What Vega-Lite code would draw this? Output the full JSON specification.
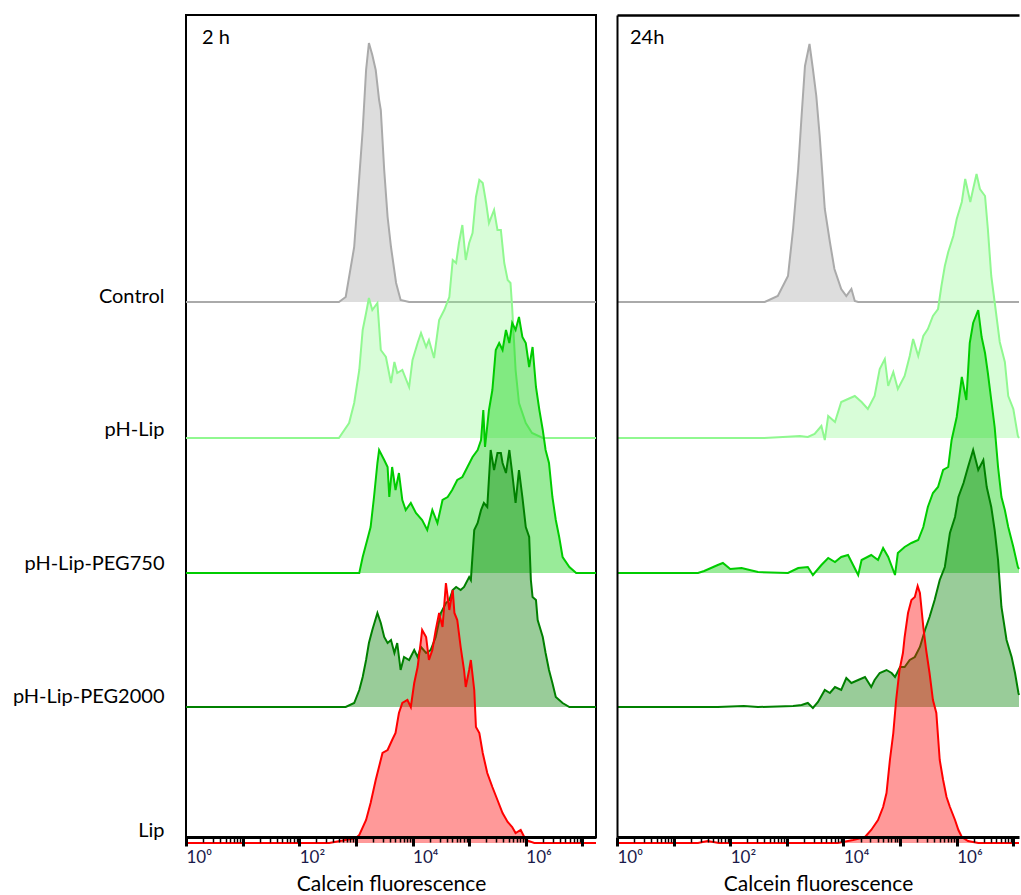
{
"$schema": "https://vega.github.io/schema/vega-lite/v6.json",
"padding": {"left": 11, "top": 14, "right": 0, "bottom": 0},
"background": "white",
"config": {"font": "Lato", "view": {"stroke": null}, "axis": {"grid": false}},
"spacing": 12,
"datasets": {
"h2": [
{"sample":"Control","logF":0,"count":0},{"sample":"Control","logF":2.70,"count":0},{"sample":"Control","logF":2.82,"count":5},{"sample":"Control","logF":2.97,"count":55},{"sample":"Control","logF":3.06,"count":125},{"sample":"Control","logF":3.12,"count":172},{"sample":"Control","logF":3.18,"count":232},{"sample":"Control","logF":3.23,"count":259},{"sample":"Control","logF":3.29,"count":247},{"sample":"Control","logF":3.35,"count":232},{"sample":"Control","logF":3.41,"count":202},{"sample":"Control","logF":3.44,"count":192},{"sample":"Control","logF":3.50,"count":132},{"sample":"Control","logF":3.56,"count":85},{"sample":"Control","logF":3.62,"count":55},{"sample":"Control","logF":3.71,"count":19},{"sample":"Control","logF":3.79,"count":2},{"sample":"Control","logF":3.94,"count":0},{"sample":"Control","logF":7.24,"count":0},
{"sample":"pH-Lip","logF":0,"count":0},{"sample":"pH-Lip","logF":2.70,"count":0},{"sample":"pH-Lip","logF":2.88,"count":15},{"sample":"pH-Lip","logF":2.97,"count":35},{"sample":"pH-Lip","logF":3.06,"count":68},{"sample":"pH-Lip","logF":3.12,"count":108},{"sample":"pH-Lip","logF":3.18,"count":125},{"sample":"pH-Lip","logF":3.23,"count":140},{"sample":"pH-Lip","logF":3.29,"count":128},{"sample":"pH-Lip","logF":3.38,"count":135},{"sample":"pH-Lip","logF":3.44,"count":88},{"sample":"pH-Lip","logF":3.53,"count":81},{"sample":"pH-Lip","logF":3.62,"count":55},{"sample":"pH-Lip","logF":3.68,"count":76},{"sample":"pH-Lip","logF":3.73,"count":65},{"sample":"pH-Lip","logF":3.82,"count":68},{"sample":"pH-Lip","logF":3.94,"count":51},{"sample":"pH-Lip","logF":4.00,"count":78},{"sample":"pH-Lip","logF":4.09,"count":95},{"sample":"pH-Lip","logF":4.15,"count":105},{"sample":"pH-Lip","logF":4.24,"count":91},{"sample":"pH-Lip","logF":4.29,"count":98},{"sample":"pH-Lip","logF":4.38,"count":80},{"sample":"pH-Lip","logF":4.47,"count":118},{"sample":"pH-Lip","logF":4.56,"count":128},{"sample":"pH-Lip","logF":4.65,"count":141},{"sample":"pH-Lip","logF":4.71,"count":178},{"sample":"pH-Lip","logF":4.77,"count":175},{"sample":"pH-Lip","logF":4.82,"count":195},{"sample":"pH-Lip","logF":4.88,"count":213},{"sample":"pH-Lip","logF":4.94,"count":178},{"sample":"pH-Lip","logF":5.00,"count":195},{"sample":"pH-Lip","logF":5.06,"count":205},{"sample":"pH-Lip","logF":5.12,"count":241},{"sample":"pH-Lip","logF":5.18,"count":258},{"sample":"pH-Lip","logF":5.24,"count":255},{"sample":"pH-Lip","logF":5.30,"count":235},{"sample":"pH-Lip","logF":5.35,"count":215},{"sample":"pH-Lip","logF":5.44,"count":228},{"sample":"pH-Lip","logF":5.50,"count":208},{"sample":"pH-Lip","logF":5.56,"count":208},{"sample":"pH-Lip","logF":5.62,"count":175},{"sample":"pH-Lip","logF":5.68,"count":158},{"sample":"pH-Lip","logF":5.73,"count":155},{"sample":"pH-Lip","logF":5.76,"count":130},{"sample":"pH-Lip","logF":5.82,"count":68},{"sample":"pH-Lip","logF":5.88,"count":35},{"sample":"pH-Lip","logF":6.00,"count":15},{"sample":"pH-Lip","logF":6.11,"count":5},{"sample":"pH-Lip","logF":6.30,"count":0},{"sample":"pH-Lip","logF":7.24,"count":0},
{"sample":"pH-Lip-PEG750","logF":0,"count":0},{"sample":"pH-Lip-PEG750","logF":3.06,"count":0},{"sample":"pH-Lip-PEG750","logF":3.12,"count":16},{"sample":"pH-Lip-PEG750","logF":3.20,"count":33},{"sample":"pH-Lip-PEG750","logF":3.26,"count":46},{"sample":"pH-Lip-PEG750","logF":3.32,"count":76},{"sample":"pH-Lip-PEG750","logF":3.38,"count":110},{"sample":"pH-Lip-PEG750","logF":3.41,"count":123},{"sample":"pH-Lip-PEG750","logF":3.50,"count":113},{"sample":"pH-Lip-PEG750","logF":3.56,"count":106},{"sample":"pH-Lip-PEG750","logF":3.59,"count":76},{"sample":"pH-Lip-PEG750","logF":3.64,"count":106},{"sample":"pH-Lip-PEG750","logF":3.70,"count":83},{"sample":"pH-Lip-PEG750","logF":3.76,"count":100},{"sample":"pH-Lip-PEG750","logF":3.82,"count":73},{"sample":"pH-Lip-PEG750","logF":3.88,"count":63},{"sample":"pH-Lip-PEG750","logF":3.97,"count":70},{"sample":"pH-Lip-PEG750","logF":4.06,"count":60},{"sample":"pH-Lip-PEG750","logF":4.17,"count":53},{"sample":"pH-Lip-PEG750","logF":4.26,"count":43},{"sample":"pH-Lip-PEG750","logF":4.35,"count":63},{"sample":"pH-Lip-PEG750","logF":4.44,"count":50},{"sample":"pH-Lip-PEG750","logF":4.53,"count":73},{"sample":"pH-Lip-PEG750","logF":4.62,"count":76},{"sample":"pH-Lip-PEG750","logF":4.70,"count":83},{"sample":"pH-Lip-PEG750","logF":4.79,"count":93},{"sample":"pH-Lip-PEG750","logF":4.88,"count":96},{"sample":"pH-Lip-PEG750","logF":4.97,"count":106},{"sample":"pH-Lip-PEG750","logF":5.06,"count":116},{"sample":"pH-Lip-PEG750","logF":5.15,"count":123},{"sample":"pH-Lip-PEG750","logF":5.21,"count":133},{"sample":"pH-Lip-PEG750","logF":5.25,"count":163},{"sample":"pH-Lip-PEG750","logF":5.28,"count":126},{"sample":"pH-Lip-PEG750","logF":5.35,"count":163},{"sample":"pH-Lip-PEG750","logF":5.41,"count":183},{"sample":"pH-Lip-PEG750","logF":5.47,"count":223},{"sample":"pH-Lip-PEG750","logF":5.53,"count":230},{"sample":"pH-Lip-PEG750","logF":5.59,"count":223},{"sample":"pH-Lip-PEG750","logF":5.65,"count":243},{"sample":"pH-Lip-PEG750","logF":5.71,"count":230},{"sample":"pH-Lip-PEG750","logF":5.76,"count":250},{"sample":"pH-Lip-PEG750","logF":5.82,"count":243},{"sample":"pH-Lip-PEG750","logF":5.88,"count":256},{"sample":"pH-Lip-PEG750","logF":5.94,"count":236},{"sample":"pH-Lip-PEG750","logF":6.00,"count":230},{"sample":"pH-Lip-PEG750","logF":6.06,"count":206},{"sample":"pH-Lip-PEG750","logF":6.12,"count":226},{"sample":"pH-Lip-PEG750","logF":6.18,"count":186},{"sample":"pH-Lip-PEG750","logF":6.24,"count":163},{"sample":"pH-Lip-PEG750","logF":6.30,"count":143},{"sample":"pH-Lip-PEG750","logF":6.35,"count":123},{"sample":"pH-Lip-PEG750","logF":6.41,"count":110},{"sample":"pH-Lip-PEG750","logF":6.47,"count":76},{"sample":"pH-Lip-PEG750","logF":6.53,"count":53},{"sample":"pH-Lip-PEG750","logF":6.59,"count":36},{"sample":"pH-Lip-PEG750","logF":6.65,"count":16},{"sample":"pH-Lip-PEG750","logF":6.77,"count":6},{"sample":"pH-Lip-PEG750","logF":6.89,"count":0},{"sample":"pH-Lip-PEG750","logF":7.24,"count":0},
{"sample":"pH-Lip-PEG2000","logF":0,"count":0},{"sample":"pH-Lip-PEG2000","logF":2.82,"count":0},{"sample":"pH-Lip-PEG2000","logF":2.97,"count":4},{"sample":"pH-Lip-PEG2000","logF":3.06,"count":17},{"sample":"pH-Lip-PEG2000","logF":3.12,"count":30},{"sample":"pH-Lip-PEG2000","logF":3.18,"count":47},{"sample":"pH-Lip-PEG2000","logF":3.23,"count":64},{"sample":"pH-Lip-PEG2000","logF":3.29,"count":77},{"sample":"pH-Lip-PEG2000","logF":3.38,"count":94},{"sample":"pH-Lip-PEG2000","logF":3.44,"count":84},{"sample":"pH-Lip-PEG2000","logF":3.50,"count":70},{"sample":"pH-Lip-PEG2000","logF":3.56,"count":64},{"sample":"pH-Lip-PEG2000","logF":3.62,"count":67},{"sample":"pH-Lip-PEG2000","logF":3.68,"count":54},{"sample":"pH-Lip-PEG2000","logF":3.73,"count":64},{"sample":"pH-Lip-PEG2000","logF":3.79,"count":37},{"sample":"pH-Lip-PEG2000","logF":3.85,"count":50},{"sample":"pH-Lip-PEG2000","logF":3.94,"count":47},{"sample":"pH-Lip-PEG2000","logF":4.03,"count":57},{"sample":"pH-Lip-PEG2000","logF":4.09,"count":50},{"sample":"pH-Lip-PEG2000","logF":4.15,"count":60},{"sample":"pH-Lip-PEG2000","logF":4.24,"count":54},{"sample":"pH-Lip-PEG2000","logF":4.32,"count":57},{"sample":"pH-Lip-PEG2000","logF":4.41,"count":70},{"sample":"pH-Lip-PEG2000","logF":4.50,"count":94},{"sample":"pH-Lip-PEG2000","logF":4.59,"count":104},{"sample":"pH-Lip-PEG2000","logF":4.65,"count":107},{"sample":"pH-Lip-PEG2000","logF":4.71,"count":117},{"sample":"pH-Lip-PEG2000","logF":4.77,"count":120},{"sample":"pH-Lip-PEG2000","logF":4.85,"count":117},{"sample":"pH-Lip-PEG2000","logF":4.91,"count":120},{"sample":"pH-Lip-PEG2000","logF":5.00,"count":130},{"sample":"pH-Lip-PEG2000","logF":5.03,"count":127},{"sample":"pH-Lip-PEG2000","logF":5.09,"count":177},{"sample":"pH-Lip-PEG2000","logF":5.15,"count":184},{"sample":"pH-Lip-PEG2000","logF":5.21,"count":197},{"sample":"pH-Lip-PEG2000","logF":5.26,"count":204},{"sample":"pH-Lip-PEG2000","logF":5.32,"count":200},{"sample":"pH-Lip-PEG2000","logF":5.38,"count":257},{"sample":"pH-Lip-PEG2000","logF":5.44,"count":237},{"sample":"pH-Lip-PEG2000","logF":5.50,"count":254},{"sample":"pH-Lip-PEG2000","logF":5.56,"count":254},{"sample":"pH-Lip-PEG2000","logF":5.59,"count":244},{"sample":"pH-Lip-PEG2000","logF":5.65,"count":234},{"sample":"pH-Lip-PEG2000","logF":5.71,"count":257},{"sample":"pH-Lip-PEG2000","logF":5.76,"count":234},{"sample":"pH-Lip-PEG2000","logF":5.82,"count":204},{"sample":"pH-Lip-PEG2000","logF":5.88,"count":237},{"sample":"pH-Lip-PEG2000","logF":5.94,"count":210},{"sample":"pH-Lip-PEG2000","logF":6.00,"count":180},{"sample":"pH-Lip-PEG2000","logF":6.06,"count":170},{"sample":"pH-Lip-PEG2000","logF":6.09,"count":127},{"sample":"pH-Lip-PEG2000","logF":6.12,"count":110},{"sample":"pH-Lip-PEG2000","logF":6.18,"count":107},{"sample":"pH-Lip-PEG2000","logF":6.21,"count":87},{"sample":"pH-Lip-PEG2000","logF":6.30,"count":70},{"sample":"pH-Lip-PEG2000","logF":6.35,"count":54},{"sample":"pH-Lip-PEG2000","logF":6.41,"count":37},{"sample":"pH-Lip-PEG2000","logF":6.47,"count":24},{"sample":"pH-Lip-PEG2000","logF":6.53,"count":10},{"sample":"pH-Lip-PEG2000","logF":6.65,"count":4},{"sample":"pH-Lip-PEG2000","logF":6.77,"count":0},{"sample":"pH-Lip-PEG2000","logF":7.24,"count":0},
{"sample":"Lip","logF":0,"count":0},{"sample":"Lip","logF":2.53,"count":0},{"sample":"Lip","logF":3.00,"count":5},{"sample":"Lip","logF":3.06,"count":8},{"sample":"Lip","logF":3.18,"count":23},{"sample":"Lip","logF":3.26,"count":40},{"sample":"Lip","logF":3.35,"count":63},{"sample":"Lip","logF":3.47,"count":90},{"sample":"Lip","logF":3.56,"count":93},{"sample":"Lip","logF":3.64,"count":103},{"sample":"Lip","logF":3.70,"count":110},{"sample":"Lip","logF":3.76,"count":130},{"sample":"Lip","logF":3.82,"count":140},{"sample":"Lip","logF":3.91,"count":143},{"sample":"Lip","logF":3.97,"count":136},{"sample":"Lip","logF":4.03,"count":160},{"sample":"Lip","logF":4.09,"count":176},{"sample":"Lip","logF":4.15,"count":203},{"sample":"Lip","logF":4.17,"count":213},{"sample":"Lip","logF":4.24,"count":206},{"sample":"Lip","logF":4.29,"count":183},{"sample":"Lip","logF":4.35,"count":193},{"sample":"Lip","logF":4.41,"count":213},{"sample":"Lip","logF":4.47,"count":230},{"sample":"Lip","logF":4.53,"count":216},{"sample":"Lip","logF":4.59,"count":260},{"sample":"Lip","logF":4.65,"count":233},{"sample":"Lip","logF":4.71,"count":253},{"sample":"Lip","logF":4.74,"count":230},{"sample":"Lip","logF":4.79,"count":223},{"sample":"Lip","logF":4.85,"count":196},{"sample":"Lip","logF":4.91,"count":173},{"sample":"Lip","logF":4.94,"count":156},{"sample":"Lip","logF":5.00,"count":173},{"sample":"Lip","logF":5.03,"count":183},{"sample":"Lip","logF":5.09,"count":153},{"sample":"Lip","logF":5.12,"count":116},{"sample":"Lip","logF":5.18,"count":110},{"sample":"Lip","logF":5.24,"count":90},{"sample":"Lip","logF":5.32,"count":70},{"sample":"Lip","logF":5.41,"count":56},{"sample":"Lip","logF":5.50,"count":43},{"sample":"Lip","logF":5.59,"count":30},{"sample":"Lip","logF":5.68,"count":21},{"sample":"Lip","logF":5.76,"count":16},{"sample":"Lip","logF":5.82,"count":10},{"sample":"Lip","logF":5.91,"count":13},{"sample":"Lip","logF":6.00,"count":3},{"sample":"Lip","logF":6.15,"count":0},{"sample":"Lip","logF":7.24,"count":0}
],
"h24": [
{"sample":"Control","logF":0,"count":0},{"sample":"Control","logF":2.61,"count":0},{"sample":"Control","logF":2.84,"count":6},{"sample":"Control","logF":3.02,"count":26},{"sample":"Control","logF":3.11,"count":73},{"sample":"Control","logF":3.20,"count":133},{"sample":"Control","logF":3.26,"count":186},{"sample":"Control","logF":3.32,"count":236},{"sample":"Control","logF":3.40,"count":258},{"sample":"Control","logF":3.46,"count":233},{"sample":"Control","logF":3.52,"count":206},{"sample":"Control","logF":3.58,"count":166},{"sample":"Control","logF":3.67,"count":93},{"sample":"Control","logF":3.76,"count":60},{"sample":"Control","logF":3.84,"count":33},{"sample":"Control","logF":3.96,"count":13},{"sample":"Control","logF":4.05,"count":6},{"sample":"Control","logF":4.14,"count":13},{"sample":"Control","logF":4.20,"count":1},{"sample":"Control","logF":4.26,"count":0},{"sample":"Control","logF":7.1,"count":0},
{"sample":"pH-Lip","logF":0,"count":0},{"sample":"pH-Lip","logF":2.60,"count":0},{"sample":"pH-Lip","logF":2.93,"count":1},{"sample":"pH-Lip","logF":3.23,"count":2},{"sample":"pH-Lip","logF":3.37,"count":1},{"sample":"pH-Lip","logF":3.49,"count":4},{"sample":"pH-Lip","logF":3.61,"count":12},{"sample":"pH-Lip","logF":3.67,"count":-2},{"sample":"pH-Lip","logF":3.73,"count":22},{"sample":"pH-Lip","logF":3.85,"count":16},{"sample":"pH-Lip","logF":3.96,"count":36},{"sample":"pH-Lip","logF":4.08,"count":39},{"sample":"pH-Lip","logF":4.20,"count":42},{"sample":"pH-Lip","logF":4.32,"count":36},{"sample":"pH-Lip","logF":4.43,"count":29},{"sample":"pH-Lip","logF":4.55,"count":42},{"sample":"pH-Lip","logF":4.64,"count":69},{"sample":"pH-Lip","logF":4.73,"count":79},{"sample":"pH-Lip","logF":4.79,"count":52},{"sample":"pH-Lip","logF":4.88,"count":66},{"sample":"pH-Lip","logF":4.96,"count":49},{"sample":"pH-Lip","logF":5.08,"count":62},{"sample":"pH-Lip","logF":5.17,"count":82},{"sample":"pH-Lip","logF":5.23,"count":99},{"sample":"pH-Lip","logF":5.32,"count":82},{"sample":"pH-Lip","logF":5.41,"count":102},{"sample":"pH-Lip","logF":5.49,"count":109},{"sample":"pH-Lip","logF":5.58,"count":122},{"sample":"pH-Lip","logF":5.67,"count":129},{"sample":"pH-Lip","logF":5.73,"count":152},{"sample":"pH-Lip","logF":5.79,"count":172},{"sample":"pH-Lip","logF":5.85,"count":186},{"sample":"pH-Lip","logF":5.94,"count":202},{"sample":"pH-Lip","logF":6.00,"count":219},{"sample":"pH-Lip","logF":6.09,"count":236},{"sample":"pH-Lip","logF":6.15,"count":259},{"sample":"pH-Lip","logF":6.24,"count":236},{"sample":"pH-Lip","logF":6.29,"count":249},{"sample":"pH-Lip","logF":6.35,"count":264},{"sample":"pH-Lip","logF":6.41,"count":249},{"sample":"pH-Lip","logF":6.50,"count":242},{"sample":"pH-Lip","logF":6.55,"count":209},{"sample":"pH-Lip","logF":6.61,"count":162},{"sample":"pH-Lip","logF":6.67,"count":136},{"sample":"pH-Lip","logF":6.76,"count":96},{"sample":"pH-Lip","logF":6.85,"count":76},{"sample":"pH-Lip","logF":6.91,"count":42},{"sample":"pH-Lip","logF":7.00,"count":29},{"sample":"pH-Lip","logF":7.08,"count":2},{"sample":"pH-Lip","logF":7.1,"count":0},
{"sample":"pH-Lip-PEG750","logF":0,"count":0},{"sample":"pH-Lip-PEG750","logF":1.43,"count":0},{"sample":"pH-Lip-PEG750","logF":1.54,"count":2},{"sample":"pH-Lip-PEG750","logF":1.78,"count":8},{"sample":"pH-Lip-PEG750","logF":1.87,"count":10},{"sample":"pH-Lip-PEG750","logF":2.00,"count":4},{"sample":"pH-Lip-PEG750","logF":2.20,"count":5},{"sample":"pH-Lip-PEG750","logF":2.49,"count":1},{"sample":"pH-Lip-PEG750","logF":3.02,"count":0},{"sample":"pH-Lip-PEG750","logF":3.20,"count":5},{"sample":"pH-Lip-PEG750","logF":3.37,"count":6},{"sample":"pH-Lip-PEG750","logF":3.46,"count":-2},{"sample":"pH-Lip-PEG750","logF":3.61,"count":8},{"sample":"pH-Lip-PEG750","logF":3.73,"count":15},{"sample":"pH-Lip-PEG750","logF":3.85,"count":11},{"sample":"pH-Lip-PEG750","logF":3.96,"count":16},{"sample":"pH-Lip-PEG750","logF":4.08,"count":18},{"sample":"pH-Lip-PEG750","logF":4.26,"count":-2},{"sample":"pH-Lip-PEG750","logF":4.32,"count":13},{"sample":"pH-Lip-PEG750","logF":4.49,"count":18},{"sample":"pH-Lip-PEG750","logF":4.61,"count":13},{"sample":"pH-Lip-PEG750","logF":4.70,"count":25},{"sample":"pH-Lip-PEG750","logF":4.79,"count":16},{"sample":"pH-Lip-PEG750","logF":4.91,"count":-2},{"sample":"pH-Lip-PEG750","logF":4.96,"count":20},{"sample":"pH-Lip-PEG750","logF":5.08,"count":26},{"sample":"pH-Lip-PEG750","logF":5.20,"count":30},{"sample":"pH-Lip-PEG750","logF":5.32,"count":33},{"sample":"pH-Lip-PEG750","logF":5.41,"count":46},{"sample":"pH-Lip-PEG750","logF":5.49,"count":66},{"sample":"pH-Lip-PEG750","logF":5.58,"count":80},{"sample":"pH-Lip-PEG750","logF":5.67,"count":86},{"sample":"pH-Lip-PEG750","logF":5.76,"count":103},{"sample":"pH-Lip-PEG750","logF":5.85,"count":106},{"sample":"pH-Lip-PEG750","logF":5.91,"count":133},{"sample":"pH-Lip-PEG750","logF":6.00,"count":156},{"sample":"pH-Lip-PEG750","logF":6.09,"count":196},{"sample":"pH-Lip-PEG750","logF":6.17,"count":173},{"sample":"pH-Lip-PEG750","logF":6.23,"count":230},{"sample":"pH-Lip-PEG750","logF":6.29,"count":250},{"sample":"pH-Lip-PEG750","logF":6.38,"count":263},{"sample":"pH-Lip-PEG750","logF":6.44,"count":236},{"sample":"pH-Lip-PEG750","logF":6.50,"count":220},{"sample":"pH-Lip-PEG750","logF":6.55,"count":200},{"sample":"pH-Lip-PEG750","logF":6.61,"count":173},{"sample":"pH-Lip-PEG750","logF":6.67,"count":146},{"sample":"pH-Lip-PEG750","logF":6.73,"count":106},{"sample":"pH-Lip-PEG750","logF":6.79,"count":76},{"sample":"pH-Lip-PEG750","logF":6.85,"count":63},{"sample":"pH-Lip-PEG750","logF":6.91,"count":46},{"sample":"pH-Lip-PEG750","logF":7.00,"count":26},{"sample":"pH-Lip-PEG750","logF":7.08,"count":6},{"sample":"pH-Lip-PEG750","logF":7.1,"count":4},
{"sample":"pH-Lip-PEG2000","logF":0,"count":0},{"sample":"pH-Lip-PEG2000","logF":1.78,"count":0},{"sample":"pH-Lip-PEG2000","logF":2.24,"count":1},{"sample":"pH-Lip-PEG2000","logF":2.49,"count":0},{"sample":"pH-Lip-PEG2000","logF":3.11,"count":1},{"sample":"pH-Lip-PEG2000","logF":3.26,"count":2},{"sample":"pH-Lip-PEG2000","logF":3.37,"count":4},{"sample":"pH-Lip-PEG2000","logF":3.46,"count":-1},{"sample":"pH-Lip-PEG2000","logF":3.55,"count":5},{"sample":"pH-Lip-PEG2000","logF":3.67,"count":17},{"sample":"pH-Lip-PEG2000","logF":3.76,"count":14},{"sample":"pH-Lip-PEG2000","logF":3.85,"count":20},{"sample":"pH-Lip-PEG2000","logF":3.96,"count":17},{"sample":"pH-Lip-PEG2000","logF":4.05,"count":29},{"sample":"pH-Lip-PEG2000","logF":4.14,"count":24},{"sample":"pH-Lip-PEG2000","logF":4.26,"count":27},{"sample":"pH-Lip-PEG2000","logF":4.38,"count":30},{"sample":"pH-Lip-PEG2000","logF":4.49,"count":20},{"sample":"pH-Lip-PEG2000","logF":4.55,"count":27},{"sample":"pH-Lip-PEG2000","logF":4.64,"count":34},{"sample":"pH-Lip-PEG2000","logF":4.76,"count":37},{"sample":"pH-Lip-PEG2000","logF":4.85,"count":34},{"sample":"pH-Lip-PEG2000","logF":4.91,"count":30},{"sample":"pH-Lip-PEG2000","logF":5.00,"count":40},{"sample":"pH-Lip-PEG2000","logF":5.08,"count":40},{"sample":"pH-Lip-PEG2000","logF":5.17,"count":47},{"sample":"pH-Lip-PEG2000","logF":5.26,"count":50},{"sample":"pH-Lip-PEG2000","logF":5.35,"count":60},{"sample":"pH-Lip-PEG2000","logF":5.44,"count":77},{"sample":"pH-Lip-PEG2000","logF":5.52,"count":90},{"sample":"pH-Lip-PEG2000","logF":5.61,"count":107},{"sample":"pH-Lip-PEG2000","logF":5.70,"count":127},{"sample":"pH-Lip-PEG2000","logF":5.79,"count":140},{"sample":"pH-Lip-PEG2000","logF":5.88,"count":174},{"sample":"pH-Lip-PEG2000","logF":5.97,"count":190},{"sample":"pH-Lip-PEG2000","logF":6.03,"count":210},{"sample":"pH-Lip-PEG2000","logF":6.12,"count":224},{"sample":"pH-Lip-PEG2000","logF":6.20,"count":240},{"sample":"pH-Lip-PEG2000","logF":6.29,"count":257},{"sample":"pH-Lip-PEG2000","logF":6.38,"count":237},{"sample":"pH-Lip-PEG2000","logF":6.47,"count":247},{"sample":"pH-Lip-PEG2000","logF":6.53,"count":220},{"sample":"pH-Lip-PEG2000","logF":6.61,"count":200},{"sample":"pH-Lip-PEG2000","logF":6.67,"count":177},{"sample":"pH-Lip-PEG2000","logF":6.73,"count":147},{"sample":"pH-Lip-PEG2000","logF":6.79,"count":100},{"sample":"pH-Lip-PEG2000","logF":6.88,"count":67},{"sample":"pH-Lip-PEG2000","logF":6.97,"count":50},{"sample":"pH-Lip-PEG2000","logF":7.03,"count":34},{"sample":"pH-Lip-PEG2000","logF":7.09,"count":14},{"sample":"pH-Lip-PEG2000","logF":7.1,"count":12},
{"sample":"Lip","logF":0,"count":0},{"sample":"Lip","logF":1.43,"count":0},{"sample":"Lip","logF":1.6,"count":2},{"sample":"Lip","logF":1.8,"count":0},{"sample":"Lip","logF":3.90,"count":0},{"sample":"Lip","logF":4.17,"count":3},{"sample":"Lip","logF":4.38,"count":6},{"sample":"Lip","logF":4.49,"count":13},{"sample":"Lip","logF":4.61,"count":23},{"sample":"Lip","logF":4.70,"count":36},{"sample":"Lip","logF":4.76,"count":50},{"sample":"Lip","logF":4.82,"count":83},{"sample":"Lip","logF":4.88,"count":110},{"sample":"Lip","logF":4.93,"count":143},{"sample":"Lip","logF":4.99,"count":173},{"sample":"Lip","logF":5.05,"count":190},{"sample":"Lip","logF":5.08,"count":206},{"sample":"Lip","logF":5.14,"count":230},{"sample":"Lip","logF":5.20,"count":243},{"sample":"Lip","logF":5.26,"count":246},{"sample":"Lip","logF":5.31,"count":257},{"sample":"Lip","logF":5.35,"count":250},{"sample":"Lip","logF":5.41,"count":216},{"sample":"Lip","logF":5.46,"count":193},{"sample":"Lip","logF":5.52,"count":170},{"sample":"Lip","logF":5.58,"count":143},{"sample":"Lip","logF":5.64,"count":130},{"sample":"Lip","logF":5.70,"count":83},{"sample":"Lip","logF":5.76,"count":63},{"sample":"Lip","logF":5.82,"count":46},{"sample":"Lip","logF":5.88,"count":36},{"sample":"Lip","logF":5.97,"count":23},{"sample":"Lip","logF":6.03,"count":13},{"sample":"Lip","logF":6.09,"count":6},{"sample":"Lip","logF":6.20,"count":2},{"sample":"Lip","logF":6.38,"count":0},{"sample":"Lip","logF":7.1,"count":0}
]
},
"hconcat": [
{
"width": 410, "height": 822,
"data": {"name": "h2"},
"view": {"stroke": "black", "strokeWidth": 2},
"title": {"text": "2 h", "anchor": "start", "frame": "group", "dx": 16, "offset": -33, "fontSize": 20, "fontWeight": "normal", "color": "black", "font": "Lato"},
"resolve": {"scale": {"y": "independent"}, "axis": {"x": "independent"}},
"layer": [
{"transform": [{"aggregate": [{"op": "count", "as": "n"}], "groupby": ["sample"]}],
 "mark": {"type": "point", "opacity": 0},
 "encoding": {"y": {"field": "sample", "type": "nominal", "scale": {"type": "point", "domain": ["Control", "pH-Lip", "pH-Lip-PEG750", "pH-Lip-PEG2000", "Lip"], "range": [281, 815], "padding": 0},
   "axis": {"orient": "left", "title": null, "domain": false, "ticks": false, "labelFontSize": 20, "labelColor": "black", "labelPadding": 22, "labelFont": "Lato", "labelBaseline": "middle"}}}},
{"transform": [{"filter": "datum.sample == 'Control'"}],
 "mark": {"type": "area", "color": "#aaaaaa", "fillOpacity": 0.4, "line": {"color": "#aaaaaa", "strokeWidth": 2}},
 "encoding": {"x": {"field": "logF", "type": "quantitative", "scale": {"domain": [0, 7.24], "nice": false, "zero": false},
   "axis": {"orient": "bottom", "values": [0,1,2,3,4,5,6,7], "labelExpr": "datum.value == 0 ? '10⁰' : datum.value == 2 ? '10²' : datum.value == 4 ? '10⁴' : datum.value == 6 ? '10⁶' : ''", "labelAlign": "left", "labelFlush": false, "labelOverlap": false, "labelFontSize": 17, "labelColor": "#1a1a4a", "labelPadding": 3, "tickSize": 9, "tickWidth": 3, "tickColor": "black", "domain": true, "domainColor": "black", "domainWidth": 3, "title": "Calcein fluorescence", "titleFontSize": 21, "titleFontWeight": "normal", "titleColor": "black", "titlePadding": 8, "zindex": 1}},
  "y": {"field": "count", "type": "quantitative", "scale": {"domain": [-535, 287], "nice": false, "zero": false}, "axis": null},
  "y2": {"datum": 0}}},
{"transform": [{"filter": "datum.sample == 'pH-Lip'"}],
 "mark": {"type": "area", "color": "#90f890", "fillOpacity": 0.35, "line": {"color": "#90f890", "strokeWidth": 2}},
 "encoding": {"x": {"field": "logF", "type": "quantitative", "scale": {"domain": [0, 7.24], "nice": false, "zero": false},
   "axis": {"orient": "bottom", "values": [0.301,0.477,0.602,0.699,0.778,0.845,0.903,0.954,1.301,1.477,1.602,1.699,1.778,1.845,1.903,1.954,2.301,2.477,2.602,2.699,2.778,2.845,2.903,2.954,3.301,3.477,3.602,3.699,3.778,3.845,3.903,3.954,4.301,4.477,4.602,4.699,4.778,4.845,4.903,4.954,5.301,5.477,5.602,5.699,5.778,5.845,5.903,5.954,6.301,6.477,6.602,6.699,6.778,6.845,6.903,6.954], "labels": false, "tickSize": 5, "tickWidth": 1.5, "tickColor": "black", "domain": false, "title": null, "zindex": 1}},
  "y": {"field": "count", "type": "quantitative", "scale": {"domain": [-399, 423], "nice": false, "zero": false}, "axis": null},
  "y2": {"datum": 0}}},
{"transform": [{"filter": "datum.sample == 'pH-Lip-PEG750'"}],
 "mark": {"type": "area", "color": "#00cc00", "fillOpacity": 0.4, "line": {"color": "#00cc00", "strokeWidth": 2}},
 "encoding": {"x": {"field": "logF", "type": "quantitative", "scale": {"domain": [0, 7.24], "nice": false, "zero": false}, "axis": null},
  "y": {"field": "count", "type": "quantitative", "scale": {"domain": [-264, 558], "nice": false, "zero": false}, "axis": null},
  "y2": {"datum": 0}}},
{"transform": [{"filter": "datum.sample == 'pH-Lip-PEG2000'"}],
 "mark": {"type": "area", "color": "#008000", "fillOpacity": 0.4, "line": {"color": "#008000", "strokeWidth": 2}},
 "encoding": {"x": {"field": "logF", "type": "quantitative", "scale": {"domain": [0, 7.24], "nice": false, "zero": false}, "axis": null},
  "y": {"field": "count", "type": "quantitative", "scale": {"domain": [-130, 692], "nice": false, "zero": false}, "axis": null},
  "y2": {"datum": 0}}},
{"transform": [{"filter": "datum.sample == 'Lip'"}],
 "mark": {"type": "area", "color": "#ff0000", "fillOpacity": 0.4, "line": {"color": "#ff0000", "strokeWidth": 2}},
 "encoding": {"x": {"field": "logF", "type": "quantitative", "scale": {"domain": [0, 7.24], "nice": false, "zero": false}, "axis": null},
  "y": {"field": "count", "type": "quantitative", "scale": {"domain": [6, 828], "nice": false, "zero": false}, "axis": null},
  "y2": {"datum": 0}}}
]
},
{
"width": 402, "height": 822,
"data": {"name": "h24"},
"title": {"text": "24h", "anchor": "start", "frame": "group", "dx": 13, "offset": -33, "fontSize": 20, "fontWeight": "normal", "color": "black", "font": "Lato"},
"resolve": {"scale": {"y": "independent"}, "axis": {"x": "independent"}},
"layer": [
{"transform": [{"filter": "datum.sample == 'Control'"}],
 "mark": {"type": "area", "color": "#aaaaaa", "fillOpacity": 0.4, "line": {"color": "#aaaaaa", "strokeWidth": 2}},
 "encoding": {"x": {"field": "logF", "type": "quantitative", "scale": {"domain": [0, 7.1], "nice": false, "zero": false},
   "axis": {"orient": "bottom", "values": [0,1,2,3,4,5,6,7], "labelExpr": "datum.value == 0 ? '10⁰' : datum.value == 2 ? '10²' : datum.value == 4 ? '10⁴' : datum.value == 6 ? '10⁶' : ''", "labelAlign": "left", "labelFlush": false, "labelOverlap": false, "labelFontSize": 17, "labelColor": "#1a1a4a", "labelPadding": 3, "tickSize": 9, "tickWidth": 3, "tickColor": "black", "domain": true, "domainColor": "black", "domainWidth": 3, "title": "Calcein fluorescence", "titleFontSize": 21, "titleFontWeight": "normal", "titleColor": "black", "titlePadding": 8, "zindex": 1}},
  "y": {"field": "count", "type": "quantitative", "scale": {"domain": [-535, 287], "nice": false, "zero": false},
   "axis": {"orient": "left", "domain": true, "domainColor": "black", "domainWidth": 2, "ticks": false, "labels": false, "title": null, "zindex": 1}},
  "y2": {"datum": 0}}},
{"transform": [{"filter": "datum.sample == 'pH-Lip'"}],
 "mark": {"type": "area", "color": "#90f890", "fillOpacity": 0.35, "line": {"color": "#90f890", "strokeWidth": 2}},
 "encoding": {"x": {"field": "logF", "type": "quantitative", "scale": {"domain": [0, 7.1], "nice": false, "zero": false},
   "axis": {"orient": "bottom", "values": [0.301,0.477,0.602,0.699,0.778,0.845,0.903,0.954,1.301,1.477,1.602,1.699,1.778,1.845,1.903,1.954,2.301,2.477,2.602,2.699,2.778,2.845,2.903,2.954,3.301,3.477,3.602,3.699,3.778,3.845,3.903,3.954,4.301,4.477,4.602,4.699,4.778,4.845,4.903,4.954,5.301,5.477,5.602,5.699,5.778,5.845,5.903,5.954,6.301,6.477,6.602,6.699,6.778,6.845,6.903,6.954], "labels": false, "tickSize": 5, "tickWidth": 1.5, "tickColor": "black", "domain": false, "title": null, "zindex": 1}},
  "y": {"field": "count", "type": "quantitative", "scale": {"domain": [-399, 423], "nice": false, "zero": false}, "axis": null},
  "y2": {"datum": 0}}},
{"transform": [{"filter": "datum.sample == 'pH-Lip-PEG750'"}],
 "mark": {"type": "area", "color": "#00cc00", "fillOpacity": 0.4, "line": {"color": "#00cc00", "strokeWidth": 2}},
 "encoding": {"x": {"field": "logF", "type": "quantitative", "scale": {"domain": [0, 7.1], "nice": false, "zero": false},
   "axis": {"orient": "top", "domain": true, "domainColor": "black", "domainWidth": 2.5, "ticks": false, "labels": false, "title": null, "zindex": 1}},
  "y": {"field": "count", "type": "quantitative", "scale": {"domain": [-264, 558], "nice": false, "zero": false}, "axis": null},
  "y2": {"datum": 0}}},
{"transform": [{"filter": "datum.sample == 'pH-Lip-PEG2000'"}],
 "mark": {"type": "area", "color": "#008000", "fillOpacity": 0.4, "line": {"color": "#008000", "strokeWidth": 2}},
 "encoding": {"x": {"field": "logF", "type": "quantitative", "scale": {"domain": [0, 7.1], "nice": false, "zero": false}, "axis": null},
  "y": {"field": "count", "type": "quantitative", "scale": {"domain": [-130, 692], "nice": false, "zero": false}, "axis": null},
  "y2": {"datum": 0}}},
{"transform": [{"filter": "datum.sample == 'Lip'"}],
 "mark": {"type": "area", "color": "#ff0000", "fillOpacity": 0.4, "line": {"color": "#ff0000", "strokeWidth": 2}},
 "encoding": {"x": {"field": "logF", "type": "quantitative", "scale": {"domain": [0, 7.1], "nice": false, "zero": false}, "axis": null},
  "y": {"field": "count", "type": "quantitative", "scale": {"domain": [6, 828], "nice": false, "zero": false}, "axis": null},
  "y2": {"datum": 0}}}
]
}
]
}
